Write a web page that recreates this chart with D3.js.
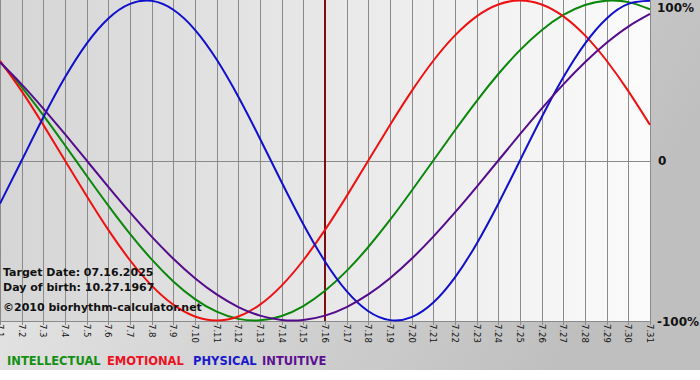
<!DOCTYPE html>
<html><head><meta charset="utf-8">
<script src="https://cdn.jsdelivr.net/npm/d3@7"></script>
<style>body{margin:0;background:#fff}svg{display:block}</style>
</head><body>
<svg id="chart" width="700" height="380"></svg>
<script>
// ---- data ----
const days = ["7.1","7.2","7.3","7.4","7.5","7.6","7.7","7.8","7.9","7.10","7.11","7.12","7.13","7.14","7.15","7.16","7.17","7.18","7.19","7.20","7.21","7.22","7.23","7.24","7.25","7.26","7.27","7.28","7.29","7.30","7.31"];
const intellectual = [0.6182,0.4582,0.2817,0.0951,-0.0951,-0.2817,-0.4582,-0.6182,-0.7558,-0.8660,-0.9450,-0.9898,-0.9989,-0.9718,-0.9096,-0.8146,-0.6901,-0.5406,-0.3717,-0.1893,0,0.1893,0.3717,0.5406,0.6901,0.8146,0.9096,0.9718,0.9989,0.9898,0.9450];
const emotional = [0.6235,0.4339,0.2225,0,-0.2225,-0.4339,-0.6235,-0.7818,-0.9010,-0.9749,-1,-0.9749,-0.9010,-0.7818,-0.6235,-0.4339,-0.2225,0,0.2225,0.4339,0.6235,0.7818,0.9010,0.9749,1,0.9749,0.9010,0.7818,0.6235,0.4339,0.2225];
const physical = [-0.2698,0,0.2698,0.5196,0.7308,0.8879,0.9791,0.9977,0.9423,0.8170,0.6310,0.3984,0.1362,-0.1362,-0.3984,-0.6310,-0.8170,-0.9423,-0.9977,-0.9791,-0.8879,-0.7308,-0.5196,-0.2698,0,0.2698,0.5196,0.7308,0.8879,0.9791,0.9977];
const intuitive = [0.6142,0.4760,0.3247,0.1646,0,-0.1646,-0.3247,-0.4760,-0.6142,-0.7357,-0.8372,-0.9158,-0.9694,-0.9966,-0.9966,-0.9694,-0.9158,-0.8372,-0.7357,-0.6142,-0.4760,-0.3247,-0.1646,0,0.1646,0.3247,0.4760,0.6142,0.7357,0.8372,0.9158];
const seriesNames = ["INTELLECTUAL","EMOTIONAL","PHYSICAL","INTUITIVE"];
const targetDay = "7.16";
const yTicks = [1, 0, -1];
const yTickLabels = ["100%", "0", "-100%"];
const infoLines = ["Target Date: 07.16.2025", "Day of birth: 10.27.1967", "\u00A92010 biorhythm-calculator.net"];

// ---- styles ----
const colors = {INTELLECTUAL:"#0a870a", EMOTIONAL:"#ee1111", PHYSICAL:"#1010cc", INTUITIVE:"#540c8c"};
const legendColors = {INTELLECTUAL:"#139013", EMOTIONAL:"#ee1122", PHYSICAL:"#1a1acc", INTUITIVE:"#5c1090"};
const font = "'DejaVu Sans', Verdana, sans-serif";

const svg = d3.select("#chart");
const W = 700, H = 380;
const plotW = 650, plotH = 321;

const defs = svg.append("defs");
const bg = defs.append("linearGradient").attr("id","bg").attr("x1","0").attr("y1","0").attr("x2","1").attr("y2","0.3");
bg.append("stop").attr("offset","0").attr("stop-color","#ededed");
bg.append("stop").attr("offset","1").attr("stop-color","#bfbfbf");
const pg = defs.append("linearGradient").attr("id","pg").attr("x1","0").attr("y1","0").attr("x2","1").attr("y2","0");
pg.append("stop").attr("offset","0").attr("stop-color","#d5d5d5");
pg.append("stop").attr("offset","1").attr("stop-color","#fbfbfb");

svg.append("rect").attr("width",W).attr("height",H).attr("fill","#fff");
svg.append("rect").attr("width",W).attr("height",370).attr("fill","url(#bg)");
svg.append("rect").attr("width",plotW).attr("height",plotH).attr("fill","url(#pg)");

const x = d3.scalePoint().domain(days).range([0, plotW]);
const y = d3.scaleLinear().domain([-1, 1]).range([320.5, 0.5]);

// vertical grid lines + ticks
svg.append("g").selectAll("line").data(days).join("line")
  .attr("x1", d => Math.round(x(d)) + 0.5).attr("x2", d => Math.round(x(d)) + 0.5)
  .attr("y1", 0).attr("y2", plotH + 4)
  .attr("stroke", "#8a8a8a").attr("stroke-width", 1);

// horizontal lines at 0 and bottom
svg.append("g").selectAll("line").data([0, -1]).join("line")
  .attr("x1", 0).attr("x2", plotW + 1)
  .attr("y1", d => Math.round(y(d)) + 0.5).attr("y2", d => Math.round(y(d)) + 0.5)
  .attr("stroke", "#8a8a8a").attr("stroke-width", 1);

// target date marker
svg.append("line")
  .attr("x1", x(targetDay)).attr("x2", x(targetDay))
  .attr("y1", 0).attr("y2", plotH)
  .attr("stroke", "#7a1010").attr("stroke-width", 2);

// curves
const line = d3.line().x((d, i) => x(days[i])).y(d => y(d)).curve(d3.curveNatural);
const data = {INTELLECTUAL: intellectual, EMOTIONAL: emotional, PHYSICAL: physical, INTUITIVE: intuitive};
const clip = defs.append("clipPath").attr("id","clip");
clip.append("rect").attr("x",0).attr("y",0).attr("width",plotW+1).attr("height",plotH+1);
const cg = svg.append("g").attr("clip-path","url(#clip)");
["INTELLECTUAL","EMOTIONAL","PHYSICAL","INTUITIVE"].forEach(n => {
  cg.append("path").attr("d", line(data[n])).attr("fill","none")
    .attr("stroke", colors[n]).attr("stroke-width", 2).attr("stroke-linejoin","round");
});

// x tick labels (rotated)
svg.append("g").selectAll("text").data(days).join("text")
  .attr("transform", d => `translate(${x(d)},324) rotate(90)`)
  .attr("dy", "0.35em")
  .attr("font-family", font).attr("font-size", 8.5).attr("fill", "#111")
  .text(d => d);

// y labels on right
const yLabPos = [11.5, 165, 326];
svg.append("g").selectAll("text").data(yTicks).join("text")
  .attr("x", (d, i) => i === 1 ? 658 : (i === 0 ? 657 : 657))
  .attr("y", (d, i) => yLabPos[i])
  .attr("font-family", font).attr("font-size", 12).attr("font-weight", "bold").attr("fill", "#111")
  .text((d, i) => yTickLabels[i]);

// info text
svg.append("g").selectAll("text").data(infoLines).join("text")
  .attr("x", 3).attr("y", (d, i) => [276, 291, 311][i])
  .attr("font-family", font).attr("font-size", 11).attr("font-weight", "bold").attr("fill", "#111")
  .text(d => d);

// legend
const legX = [7, 107, 193, 262];
svg.append("g").selectAll("text").data(seriesNames).join("text")
  .attr("x", (d, i) => legX[i]).attr("y", 365)
  .attr("font-family", font).attr("font-size", 11.5).attr("font-weight", "bold")
  .attr("fill", d => legendColors[d])
  .text(d => d);
</script>
</body></html>
